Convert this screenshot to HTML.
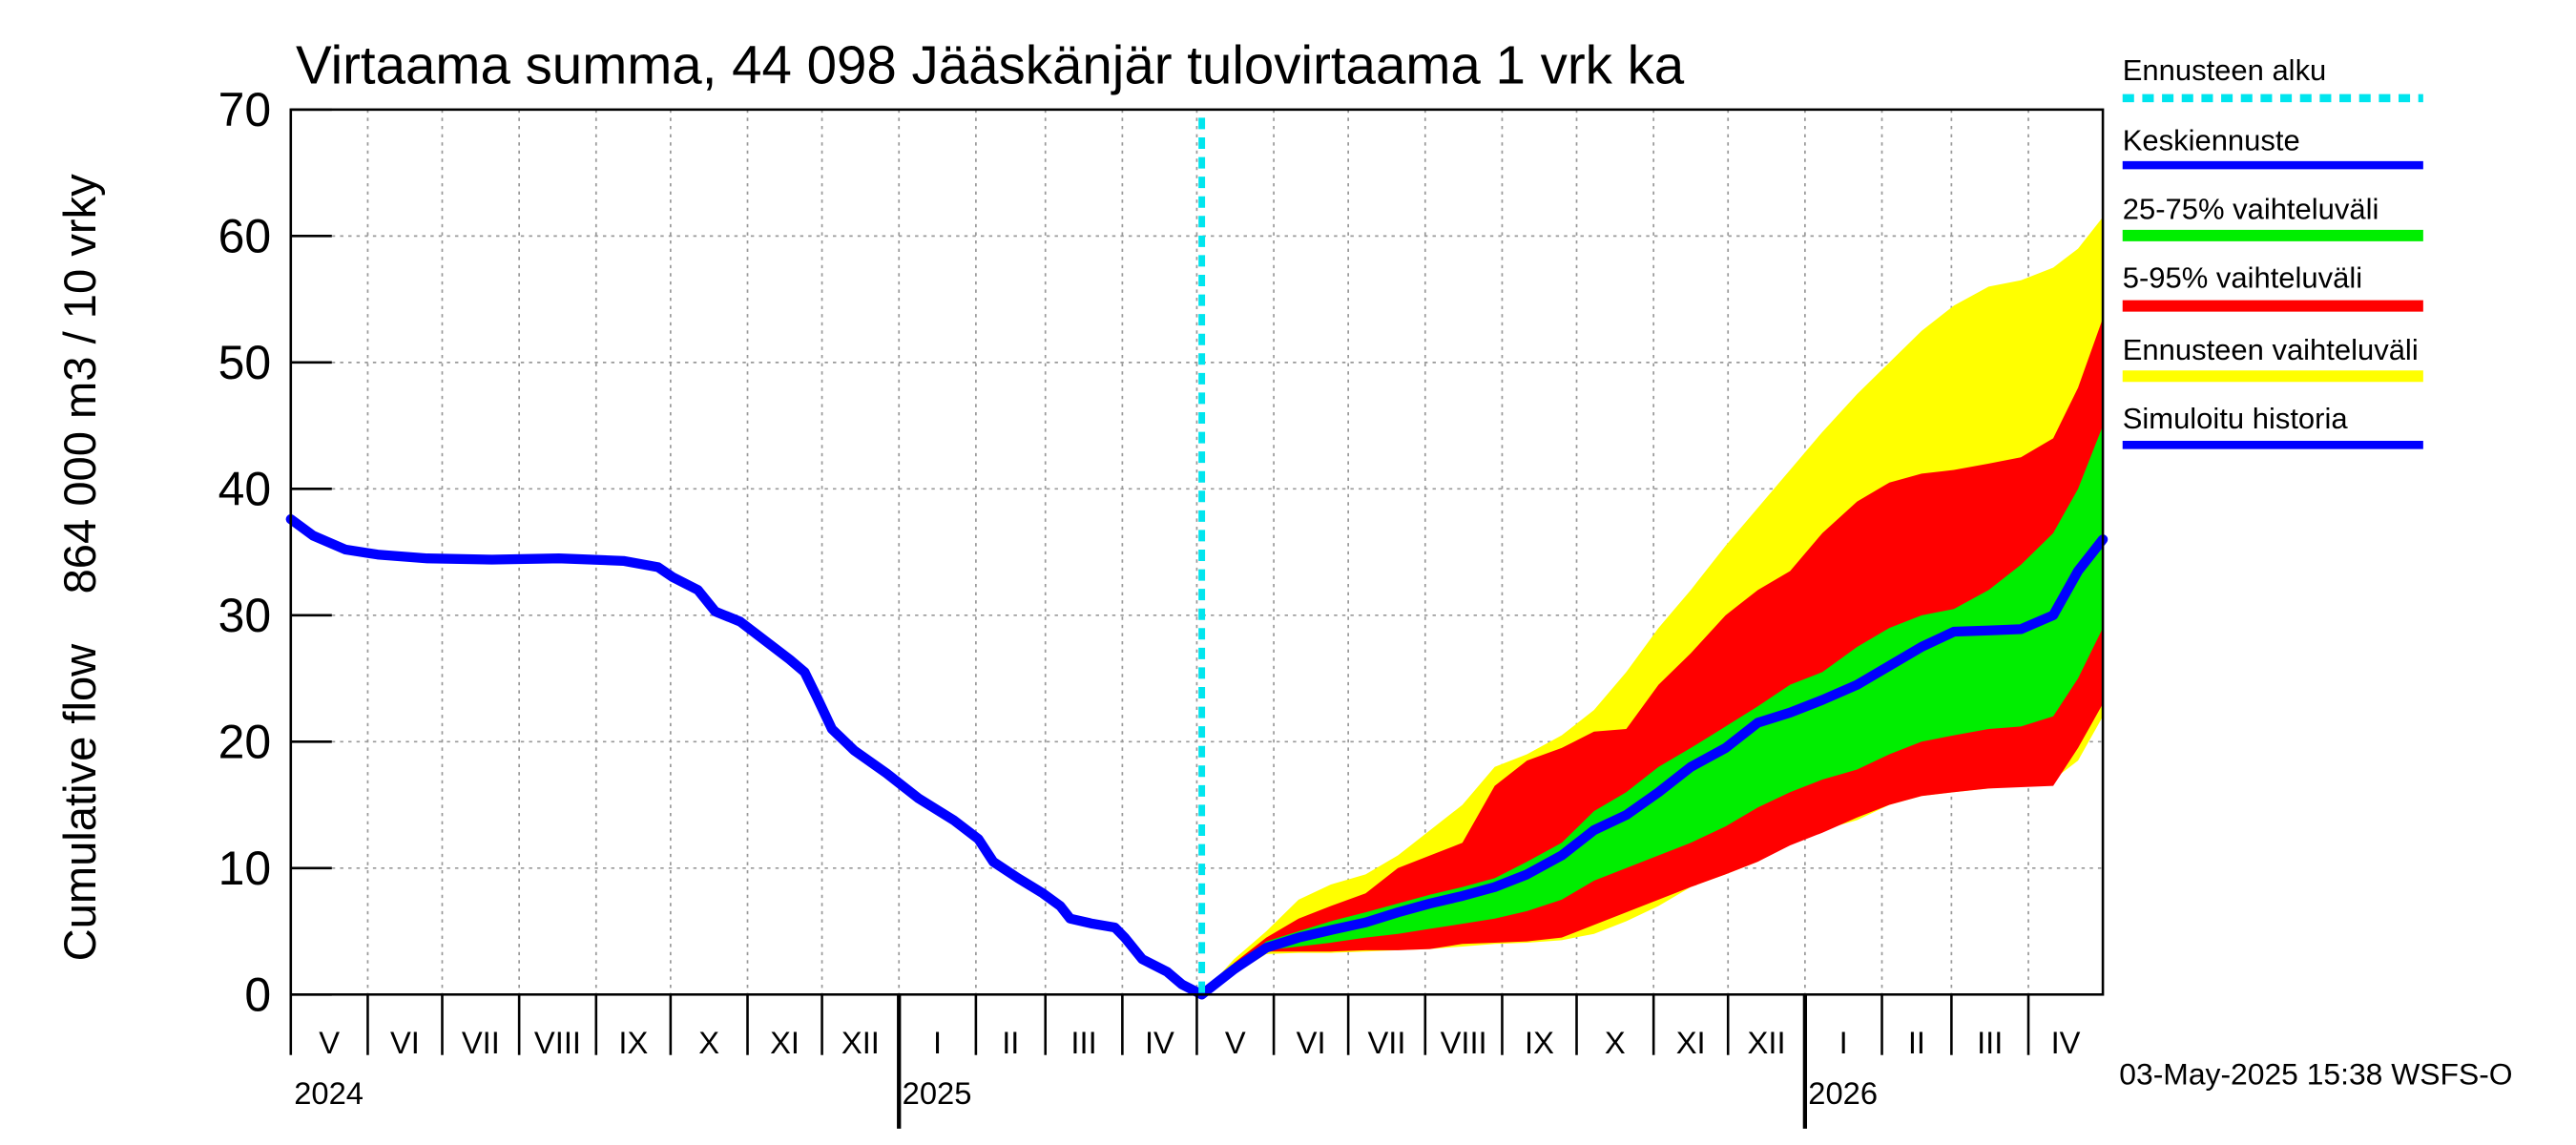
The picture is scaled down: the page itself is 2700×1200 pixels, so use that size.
<!DOCTYPE html>
<html><head><meta charset="utf-8"><style>
html,body{margin:0;padding:0;background:#fff;}
svg{display:block;font-family:"Liberation Sans",sans-serif;}
</style></head><body>
<svg id="chart" width="2700" height="1200" viewBox="0 0 1568 700" preserveAspectRatio="none" xmlns="http://www.w3.org/2000/svg">
<rect x="0" y="0" width="1568" height="700" fill="#fff"/>
<text x="180" y="51" font-size="32.8">Virtaama summa, 44 098 Jääskänjär tulovirtaama 1 vrk ka</text>
<text transform="translate(58,347) rotate(-90)" text-anchor="middle" font-size="27.5" xml:space="preserve">Cumulative flow    864 000 m3 / 10 vrky</text>
<g id="grid"></g>
<g id="bands"></g>
<g id="lines"></g>
<g id="axes"></g>
<g font-size="18">
<text x="1292" y="49">Ennusteen alku</text>
<line x1="1292" y1="60" x2="1475" y2="60" stroke="#00e5ee" stroke-width="5" stroke-dasharray="7,5"/>
<text x="1292" y="92">Keskiennuste</text>
<line x1="1292" y1="101" x2="1475" y2="101" stroke="#0000ff" stroke-width="5"/>
<text x="1292" y="134">25-75% vaihteluväli</text>
<line x1="1292" y1="144" x2="1475" y2="144" stroke="#00ee00" stroke-width="7"/>
<text x="1292" y="176">5-95% vaihteluväli</text>
<line x1="1292" y1="187" x2="1475" y2="187" stroke="#ff0000" stroke-width="7"/>
<text x="1292" y="220">Ennusteen vaihteluväli</text>
<line x1="1292" y1="230" x2="1475" y2="230" stroke="#ffff00" stroke-width="7"/>
<text x="1292" y="262">Simuloitu historia</text>
<line x1="1292" y1="272" x2="1475" y2="272" stroke="#0000ff" stroke-width="5"/>
</g>
<text x="1290" y="663" font-size="18.5">03-May-2025 15:38 WSFS-O</text>
</svg>
<script>
const histDays=[0,9,22,35,55,81,108,134,148,154,164,171,181,191,201,207,212,218,227,240,253,267,277,283,293,303,310,314,323,332,336,343,353,359,367];
const histVals=[37.6,36.3,35.2,34.8,34.5,34.4,34.5,34.3,33.8,33,32,30.3,29.5,28,26.5,25.5,23.5,21,19.3,17.5,15.5,13.8,12.3,10.5,9.2,8,7,6,5.6,5.3,4.5,2.8,1.8,0.8,0];
const fcDays=[367,380,393,406,419,433,446,459,472,485,498,512,525,538,551,564,578,591,604,617,631,644,657,670,684,697,710,720,730];
const fcMedian=[0,2,3.7,4.5,5.1,5.7,6.5,7.2,7.8,8.5,9.5,11,13,14.2,16,18,19.5,21.5,22.3,23.3,24.5,26,27.5,28.7,28.8,28.9,30,33.5,36];
const fcP25=[0,2,3.5,3.8,4.1,4.5,4.8,5.2,5.6,6,6.6,7.5,9,10,11,12,13.3,14.8,16,17,17.8,19,20,20.5,21,21.2,22,25,29];
const fcP75=[0,2.2,4.2,5,5.8,6.5,7.2,7.9,8.5,9.2,10.5,12,14.5,16,18,19.5,21.2,22.8,24.5,25.5,27.5,29,30,30.5,32,34,36.5,40,45];
const fcP5=[0,1.8,3.4,3.4,3.4,3.5,3.5,3.6,4,4.1,4.2,4.5,5.5,6.5,7.5,8.5,9.5,10.5,11.8,12.8,14,15,15.7,16,16.3,16.4,16.5,19.5,23];
const fcP95=[0,2.5,4.5,6,7,8,10,11,12,16.5,18.5,19.5,20.8,21,24.5,27,30,32,33.5,36.5,39,40.5,41.2,41.5,42,42.5,44,48,53.5];
const fcMin=[0,1.6,3.2,3.3,3.3,3.4,3.5,3.6,3.8,4,4.1,4.3,4.8,5.8,7,8.5,9.5,10.5,12,13,13.8,15,15.7,16,16.3,16.5,17,18.5,22];
const fcMax=[0,2.8,5,7.5,8.7,9.5,11,13,15,18,19,20.5,22.5,25.5,29,32,35.5,38.5,41.5,44.5,47.5,50,52.5,54.5,56,56.5,57.5,59,61.5];
const monthLabels=["V","VI","VII","VIII","IX","X","XI","XII","I","II","III","IV","V","VI","VII","VIII","IX","X","XI","XII","I","II","III","IV"];
const monthLengths=[31,30,31,31,30,31,30,31,31,28,31,30,31,30,31,31,30,31,30,31,31,28,31,30];
const yTicks=[0,10,20,30,40,50,60,70];
const years=["2024","2025","2026"];
const forecastStartDay=367;

const NS="http://www.w3.org/2000/svg";
const X0=177,X1=1280,Y0=608,Y1=67,totalDays=730,yMax=70;
const xs=d=>X0+(X1-X0)*d/totalDays;
const ys=v=>Y0-(Y0-Y1)*v/yMax;
function mk(tag,attrs,parent){const e=document.createElementNS(NS,tag);for(const k in attrs)e.setAttribute(k,attrs[k]);parent.appendChild(e);return e;}
const grid=document.getElementById('grid'),bands=document.getElementById('bands'),lines=document.getElementById('lines'),axes=document.getElementById('axes');

yTicks.forEach(v=>{
  const g=mk('line',{x1:X0,x2:X1,y1:ys(v),y2:ys(v),stroke:'#999','stroke-width':1,'stroke-dasharray':'2,3'},grid);
  
  
  const t=mk('line',{x1:X0,x2:X0+25,y1:ys(v),y2:ys(v),stroke:'#000','stroke-width':1.5},axes);
  
  
  const l=mk('text',{x:X0-12,y:ys(v)+10,'text-anchor':'end','font-size':29},axes);
  l.textContent=v;
  
  
});
let d=0;
monthLabels.forEach((m,i)=>{
  const len=monthLengths[i];
  const isYear=(m==="I");
  const gl=mk('line',{x1:xs(d),x2:xs(d),y1:Y1,y2:Y0,stroke:'#999','stroke-width':1,'stroke-dasharray':'2,3'},grid);
  
  
  const tk=mk('line',{x1:xs(d),x2:xs(d),y1:Y0,y2:isYear?690:645,stroke:'#000','stroke-width':isYear?2.5:1.5},axes);
  
  
  const lb=mk('text',{x:xs(d+len/2),y:644,'text-anchor':'middle','font-size':19},axes);
  lb.textContent=m;
  
  
  d+=len;
});
const yearDays=[0,245,610];
years.forEach((y,i)=>{
  const t=mk('text',{x:xs(yearDays[i])+2,y:675,'font-size':19},axes);
  t.textContent=y;
  
  
});
mk('rect',{x:X0,y:Y1,width:X1-X0,height:Y0-Y1,fill:'none',stroke:'#000','stroke-width':1.5},axes);

function band(lo,hi,color,name){
  let p='M'+fcDays.map((dd,i)=>xs(dd)+','+ys(hi[i])).join(' L');
  for(let i=fcDays.length-1;i>=0;i--)p+=' L'+xs(fcDays[i])+','+ys(lo[i]);
  const e=mk('path',{d:p+'Z',fill:color,stroke:'none'},bands);
  
  
}
band(fcMin,fcMax,'#ffff00','forecast-range-band');
band(fcP5,fcP95,'#ff0000','band-5-95');
band(fcP25,fcP75,'#00ee00','band-25-75');

const hl=mk('polyline',{points:histDays.map((dd,i)=>xs(dd)+','+ys(histVals[i])).join(' '),fill:'none',stroke:'#0000ff','stroke-width':6,'stroke-linejoin':'round','stroke-linecap':'round'},lines);


const ml=mk('polyline',{points:fcDays.map((dd,i)=>xs(dd)+','+ys(fcMedian[i])).join(' '),fill:'none',stroke:'#0000ff','stroke-width':6,'stroke-linejoin':'round','stroke-linecap':'round'},lines);


const fs=mk('line',{x1:xs(forecastStartDay),x2:xs(forecastStartDay),y1:Y1+5,y2:Y0,stroke:'#00e5ee','stroke-width':4,'stroke-dasharray':'7,5'},lines);


</script>
</body></html>
